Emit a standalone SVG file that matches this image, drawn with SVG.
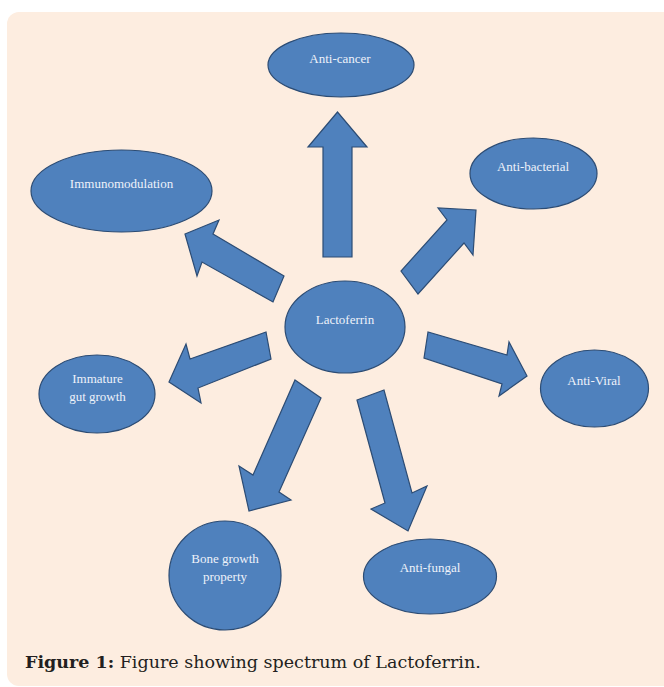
<svg xmlns="http://www.w3.org/2000/svg" width="664" height="687" viewBox="0 0 664 687">
<style>
.node{fill:#4f81bd;stroke:#2c4c74;stroke-width:1.2}
.arrow{fill:#4f81bd;stroke:#2c4c74;stroke-width:1.2;stroke-linejoin:miter}
.lbl{font-family:"Liberation Serif","DejaVu Serif",serif;font-size:13px;fill:#eef2fa;text-anchor:middle}
.cap{font-family:"DejaVu Serif","Liberation Serif",serif;font-size:17.5px;fill:#231f20}
</style>
<rect x="7" y="12" width="670" height="674" rx="12" ry="12" fill="#fdede0"/>
<g id="connectors">
<polygon class="arrow" points="323,257 352,257 352,147 367,147 337.5,112 308,147 323,147"/>
<polygon class="arrow" points="476,210 473,255 464,243 418,294 401,271 447,220 438,208"/>
<polygon class="arrow" points="185,234 219,220 213,234 284,276 273,302 202,262 197,276"/>
<polygon class="arrow" points="169,382 186,344 190,359 266,332 271,359 198,388 201,403"/>
<polygon class="arrow" points="428,332 424,358 502,384 499,396 527,376 509,342 507,355"/>
<polygon class="arrow" points="295,380 321,398 279,492 291,500 249,511 239,466 253,475"/>
<polygon class="arrow" points="357,400 384,390 412,493 427,486 408,531 371,509 385,503"/>
</g>
<g id="anti-cancer"><ellipse class="node" cx="341" cy="65" rx="73" ry="32"/><text class="lbl" x="340" y="63">Anti-cancer</text></g>
<g id="immunomodulation"><ellipse class="node" cx="121.5" cy="191" rx="90.5" ry="41"/><text class="lbl" x="121.5" y="188">Immunomodulation</text></g>
<g id="anti-bacterial"><ellipse class="node" cx="533.5" cy="173.5" rx="63.5" ry="35.5"/><text class="lbl" x="533" y="171">Anti-bacterial</text></g>
<g id="lactoferrin"><ellipse class="node" cx="345" cy="327" rx="60" ry="46"/><text class="lbl" x="345" y="324">Lactoferrin</text></g>
<g id="immature-gut-growth"><ellipse class="node" cx="97" cy="394" rx="58" ry="39"/><text class="lbl" x="97.5" y="383">Immature</text><text class="lbl" x="97.5" y="401">gut growth</text></g>
<g id="anti-viral"><ellipse class="node" cx="594.5" cy="388.5" rx="54" ry="38.5"/><text class="lbl" x="594" y="385">Anti-Viral</text></g>
<g id="bone-growth-property"><ellipse class="node" cx="225" cy="575.5" rx="56" ry="54.5"/><text class="lbl" x="225" y="563">Bone growth</text><text class="lbl" x="225" y="581">property</text></g>
<g id="anti-fungal"><ellipse class="node" cx="430" cy="576.5" rx="66.5" ry="37.5"/><text class="lbl" x="430" y="572">Anti-fungal</text></g>
<text class="cap" x="25" y="668"><tspan font-weight="bold">Figure 1:</tspan> Figure showing spectrum of Lactoferrin.</text>
</svg>
